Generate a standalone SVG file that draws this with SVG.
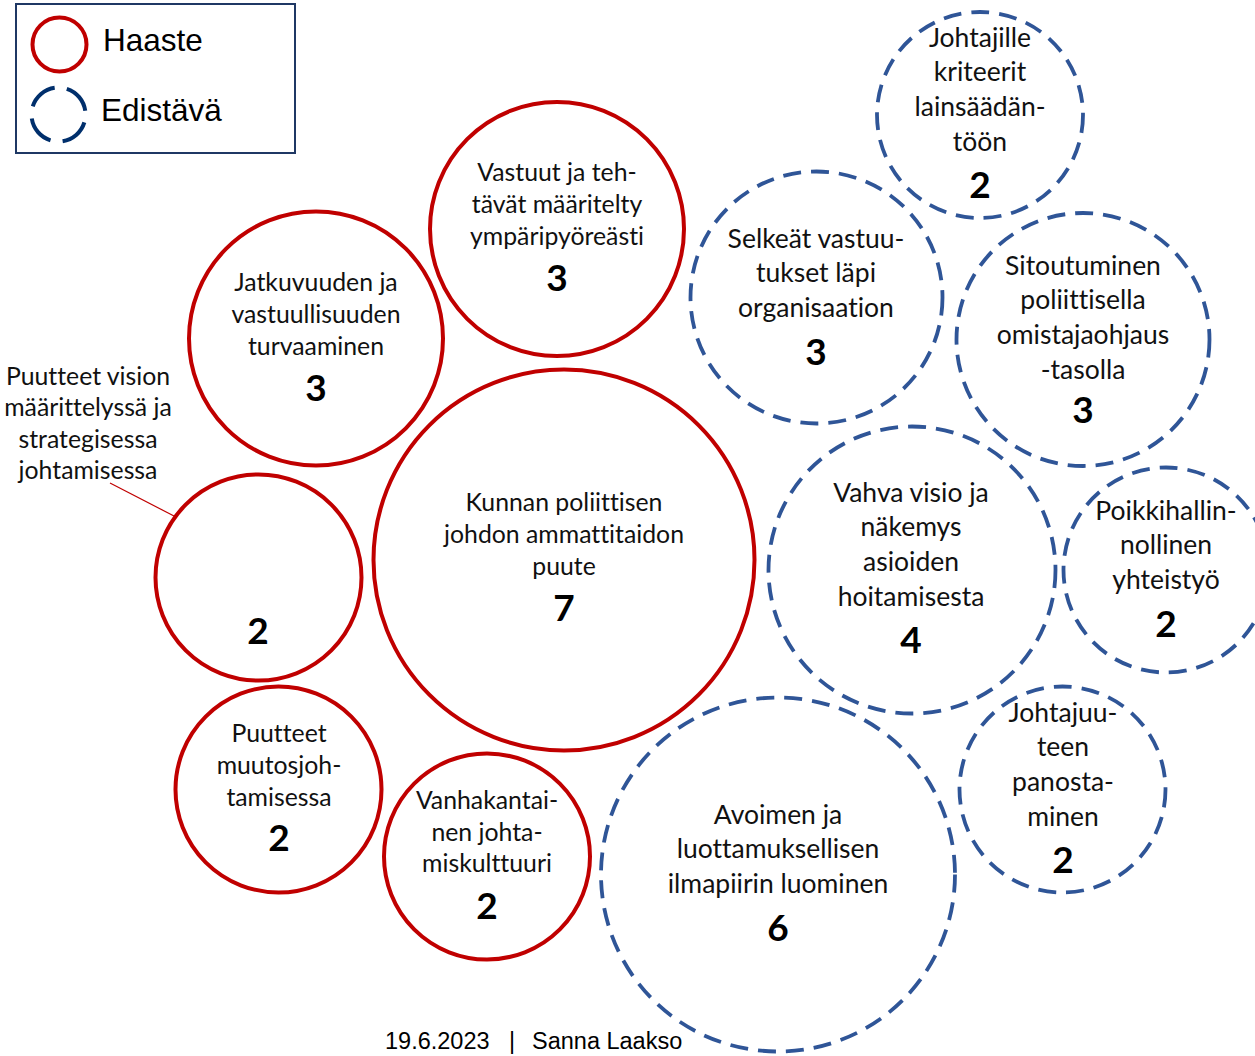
<svg xmlns="http://www.w3.org/2000/svg" width="1255" height="1056" viewBox="0 0 1255 1056">
<style>
.bg{fill:#ffffff}
.haaste{fill:none;stroke:#C00000;stroke-width:4}
.edist{fill:none;stroke:#2F5597;stroke-width:3.8;stroke-dasharray:18 10}
.t{font-family:Lato,"Open Sans","DejaVu Sans",sans-serif;font-size:26.5px;fill:#111;text-anchor:middle;font-variant-ligatures:none}
.s{font-size:24.8px}
.n{font-family:Lato,"Open Sans","DejaVu Sans",sans-serif;font-size:37px;font-weight:bold;fill:#000;text-anchor:middle}
.leg{font-family:"Liberation Sans",Arial,sans-serif;font-size:31.5px;fill:#000}
.foot{font-family:"Liberation Sans",Arial,sans-serif;font-size:23.5px;fill:#000}
</style>
<rect class="bg" x="0" y="0" width="1255" height="1056"/>

<g id="legend">
  <rect x="16" y="4" width="279" height="149" fill="#fff" stroke="#1F3864" stroke-width="2"/>
  <circle cx="59.5" cy="44.5" r="27" fill="none" stroke="#C00000" stroke-width="4"/>
  <circle cx="58.5" cy="114.5" r="27" fill="none" stroke="#002F6C" stroke-width="4" stroke-dasharray="30 12.4" stroke-dashoffset="-8"/>
  <text class="leg" x="103" y="51">Haaste</text>
  <text class="leg" x="101" y="121">Edistävä</text>
</g>

<g id="connectors">
  <line x1="110" y1="483" x2="174" y2="516" stroke="#C00000" stroke-width="1.2"/>
</g>

<g id="n-johtajille">
  <circle class="edist" cx="980" cy="115" r="103"/>
  <text class="t" x="980" y="47">Johtajille</text>
  <text class="t" x="980" y="81">kriteerit</text>
  <text class="t" x="980" y="116">lainsäädän-</text>
  <text class="t" x="980" y="151">töön</text>
  <text class="n" x="980" y="198">2</text>
</g>

<g id="n-vastuut">
  <circle class="haaste" cx="557" cy="229" r="127"/>
  <text class="t s" x="557" y="181">Vastuut ja teh-</text>
  <text class="t s" x="557" y="213">tävät määritelty</text>
  <text class="t s" x="557" y="245">ympäripyöreästi</text>
  <text class="n" x="557" y="291">3</text>
</g>

<g id="n-jatkuvuuden">
  <circle class="haaste" cx="316" cy="338.5" r="127"/>
  <text class="t s" x="316" y="291">Jatkuvuuden ja</text>
  <text class="t s" x="316" y="323">vastuullisuuden</text>
  <text class="t s" x="316" y="355">turvaaminen</text>
  <text class="n" x="316" y="401">3</text>
</g>

<g id="n-selkeat">
  <circle class="edist" cx="816.5" cy="297.5" r="126"/>
  <text class="t" x="816" y="248">Selkeät vastuu-</text>
  <text class="t" x="816" y="282">tukset läpi</text>
  <text class="t" x="816" y="317">organisaation</text>
  <text class="n" x="816" y="365">3</text>
</g>

<g id="n-sitoutuminen">
  <circle class="edist" cx="1083" cy="339.5" r="126.5"/>
  <text class="t" x="1083" y="275">Sitoutuminen</text>
  <text class="t" x="1083" y="309">poliittisella</text>
  <text class="t" x="1083" y="344">omistajaohjaus</text>
  <text class="t" x="1083" y="379">-tasolla</text>
  <text class="n" x="1083" y="423">3</text>
</g>

<g id="n-kunnan">
  <circle class="haaste" cx="564" cy="560" r="190.5"/>
  <text class="t s" x="564" y="511">Kunnan poliittisen</text>
  <text class="t s" x="564" y="543">johdon ammattitaidon</text>
  <text class="t s" x="564" y="575">puute</text>
  <text class="n" x="564" y="621">7</text>
</g>

<g id="n-vision">
  <circle class="haaste" cx="258.5" cy="577.5" r="103"/>
  <text class="t s" x="88" y="385">Puutteet vision</text>
  <text class="t s" x="88" y="416">määrittelyssä ja</text>
  <text class="t s" x="88" y="448">strategisessa</text>
  <text class="t s" x="88" y="479">johtamisessa</text>
  <text class="n" x="258" y="644">2</text>
</g>

<g id="n-vahva">
  <circle class="edist" cx="912" cy="570" r="143.5"/>
  <text class="t" x="911" y="502">Vahva visio ja</text>
  <text class="t" x="911" y="536">näkemys</text>
  <text class="t" x="911" y="571">asioiden</text>
  <text class="t" x="911" y="606">hoitamisesta</text>
  <text class="n" x="911" y="653">4</text>
</g>

<g id="n-poikki">
  <circle class="edist" cx="1166" cy="570" r="102.5"/>
  <text class="t" x="1166" y="520">Poikkihallin-</text>
  <text class="t" x="1166" y="554">nollinen</text>
  <text class="t" x="1166" y="589">yhteistyö</text>
  <text class="n" x="1166" y="637">2</text>
</g>

<g id="n-muutos">
  <circle class="haaste" cx="278.5" cy="789.5" r="103"/>
  <text class="t s" x="279" y="742">Puutteet</text>
  <text class="t s" x="279" y="774">muutosjoh-</text>
  <text class="t s" x="279" y="806">tamisessa</text>
  <text class="n" x="279" y="851">2</text>
</g>

<g id="n-vanhakantainen">
  <circle class="haaste" cx="487" cy="856.5" r="103"/>
  <text class="t s" x="487" y="809">Vanhakantai-</text>
  <text class="t s" x="487" y="841">nen johta-</text>
  <text class="t s" x="487" y="872">miskulttuuri</text>
  <text class="n" x="487" y="919">2</text>
</g>

<g id="n-avoimen">
  <circle class="edist" cx="778" cy="874.5" r="177"/>
  <text class="t" x="778" y="824">Avoimen ja</text>
  <text class="t" x="778" y="858">luottamuksellisen</text>
  <text class="t" x="778" y="893">ilmapiirin luominen</text>
  <text class="n" x="778" y="941">6</text>
</g>

<g id="n-johtajuuteen">
  <circle class="edist" cx="1062.5" cy="789.5" r="103"/>
  <text class="t" x="1063" y="722">Johtajuu-</text>
  <text class="t" x="1063" y="756">teen</text>
  <text class="t" x="1063" y="791">panosta-</text>
  <text class="t" x="1063" y="826">minen</text>
  <text class="n" x="1063" y="873">2</text>
</g>

<g id="footer">
  <text class="foot" x="385" y="1049">19.6.2023</text>
  <text class="foot" x="509" y="1049">|</text>
  <text class="foot" x="532" y="1049">Sanna Laakso</text>
</g>
</svg>
